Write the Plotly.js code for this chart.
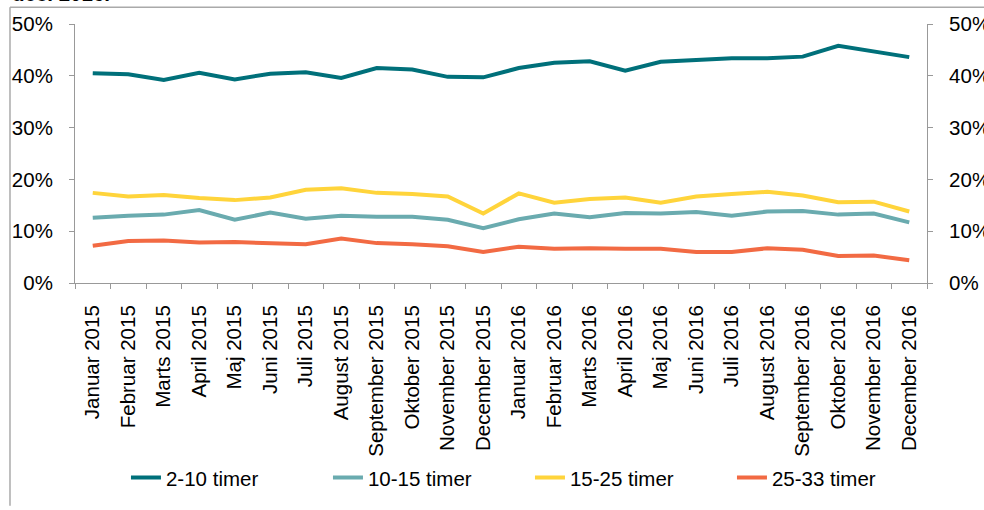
<!DOCTYPE html>
<html>
<head>
<meta charset="utf-8">
<script src="https://cdn.plot.ly/plotly-3.0.1.min.js"></script>
<style>html,body{margin:0;padding:0;background:#fff;}#chart{width:984px;height:510px;}</style>
</head>
<body>
<div id="chart"></div>
<script>
const months = ["Januar 2015","Februar 2015","Marts 2015","April 2015","Maj 2015","Juni 2015","Juli 2015","August 2015","September 2015","Oktober 2015","November 2015","December 2015","Januar 2016","Februar 2016","Marts 2016","April 2016","Maj 2016","Juni 2016","Juli 2016","August 2016","September 2016","Oktober 2016","November 2016","December 2016"];
const seriesNames = ["2-10 timer","10-15 timer","15-25 timer","25-33 timer"];
const s2_10  = [40.5,40.3,39.2,40.6,39.3,40.4,40.7,39.6,41.5,41.2,39.8,39.7,41.5,42.5,42.8,41.0,42.7,43.1,43.4,43.4,43.7,45.8,44.7,43.6];
const s10_15 = [12.6,13.0,13.2,14.1,12.2,13.6,12.4,13.0,12.8,12.8,12.2,10.6,12.3,13.4,12.7,13.5,13.4,13.7,13.0,13.8,13.9,13.2,13.4,11.7];
const s15_25 = [17.4,16.7,17.0,16.4,16.0,16.5,18.0,18.3,17.4,17.2,16.7,13.4,17.3,15.5,16.2,16.5,15.5,16.7,17.2,17.6,16.9,15.6,15.7,13.8];
const s25_33 = [7.2,8.1,8.2,7.8,7.9,7.7,7.5,8.6,7.7,7.5,7.1,6.0,7.0,6.6,6.7,6.6,6.6,6.0,6.0,6.7,6.4,5.2,5.3,4.4];
const colors = ["#00707A","#6AABAF","#FFD43B","#F26A43"];
const allSeries = [s2_10,s10_15,s15_25,s25_33];

const traces = allSeries.map((vals,i)=>({
  x: months, y: vals, type:'scatter', mode:'lines', name: seriesNames[i],
  line:{color:colors[i], width:4}
}));

const axisColor = '#999999';
const fontFam = 'Liberation Sans, Arial, sans-serif';
const layout = {
  width:984, height:510,
  margin:{l:75, r:57, t:24, b:224},
  paper_bgcolor:'#ffffff', plot_bgcolor:'#ffffff',
  font:{family:fontFam, size:20.5, color:'#000'},
  showlegend:true,
  legend:{orientation:'h', x:0.534, xanchor:'center', y:-0.752, yanchor:'middle', font:{size:20.5}, entrywidth:157},
  xaxis:{type:'category', range:[-0.5,23.5], showgrid:false, zeroline:false, showline:true, linecolor:axisColor, linewidth:1,
    ticks:'outside', ticklen:5, tickcolor:axisColor, tickson:'boundaries', tickangle:-90, ticklabelstandoff:13},
  yaxis:{range:[0,50], dtick:10, ticksuffix:'%', showgrid:false, zeroline:false, showline:true, linecolor:axisColor,
    ticks:'outside', ticklen:5, tickcolor:axisColor, ticklabelstandoff:12},
  yaxis2:{range:[0,50], dtick:10, ticksuffix:'%', overlaying:'y', side:'right', showgrid:false, zeroline:false, showline:true,
    linecolor:axisColor, ticks:'outside', ticklen:5, tickcolor:axisColor, ticklabelstandoff:12},
  shapes:[
    {type:'line', xref:'paper', yref:'paper', x0:-0.0763, x1:-0.0763, y0:1.0649, y1:-0.86, line:{color:'#aaaaaa', width:1.5}},
    {type:'line', xref:'paper', yref:'paper', x0:-0.0763, x1:1.07, y0:1.0649, y1:1.0649, line:{color:'#aaaaaa', width:1.5}}
  ],
  annotations:[
    {text:'<b>dec. 2016.</b>', xref:'paper', yref:'paper', x:-0.0763, xanchor:'left', y:1.066, yanchor:'bottom', showarrow:false, font:{size:20.5, color:'#000'}}
  ]
};
traces.push({x:[months[0]], y:[null], yaxis:'y2', showlegend:false, hoverinfo:'skip', type:'scatter', mode:'lines'});
Plotly.newPlot('chart', traces, layout, {displayModeBar:false, staticPlot:true});
</script>
</body>
</html>
